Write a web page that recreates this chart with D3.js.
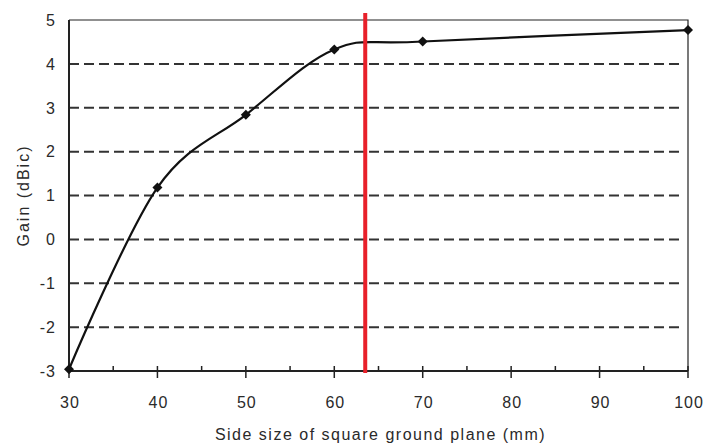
<!DOCTYPE html>
<html>
<head>
<meta charset="utf-8">
<script src="https://cdn.jsdelivr.net/npm/d3@7"></script>
<style>
  body { margin: 0; background: #fff; }
  text { font-family: "Liberation Sans", Arial, sans-serif; fill: #2a2a2a; }
</style>
</head>
<body>
<div id="chart"></div>
<script>
const width = 704;
const height = 446;

// Data
const sizes = [30, 40, 50, 60, 70, 100];
const gains = [-2.96, 1.18, 2.84, 4.33, 4.51, 4.77];
const xTicks = [30, 40, 50, 60, 70, 80, 90, 100];
const yTicks = [-3, -2, -1, 0, 1, 2, 3, 4, 5];
const markerSize = [63.5];

const margin = { top: 20, right: 16, bottom: 75, left: 69 };
const innerW = width - margin.left - margin.right;
const innerH = height - margin.top - margin.bottom;

const svg = d3.select("#chart")
  .append("svg")
  .attr("width", width)
  .attr("height", height);

const g = svg.append("g")
  .attr("transform", `translate(${margin.left},${margin.top})`);

const x = d3.scaleLinear().domain([30, 100]).range([0, innerW]);
const y = d3.scaleLinear().domain([-3, 5]).range([innerH, 0]);

// dashed gridlines (not at top or bottom)
g.selectAll(".grid")
  .data(yTicks.filter(t => t > -3 && t < 5))
  .enter()
  .append("line")
  .attr("x1", 0)
  .attr("x2", innerW - 8)
  .attr("y1", d => y(d))
  .attr("y2", d => y(d))
  .attr("stroke", "#333")
  .attr("stroke-width", 2)
  .attr("stroke-dasharray", "10,5");

// frame top & right
g.append("path")
  .attr("d", `M0,${y(5)}H${x(100)}V${y(-3)}`)
  .attr("fill", "none")
  .attr("stroke", "#222")
  .attr("stroke-width", 1.2);

// x axis: major ticks crossing, minor ticks inside
const minor = d3.range(35, 100, 10);
g.selectAll(".minor")
  .data(minor)
  .enter()
  .append("line")
  .attr("x1", d => x(d)).attr("x2", d => x(d))
  .attr("y1", innerH - 5).attr("y2", innerH)
  .attr("stroke", "#222").attr("stroke-width", 1.5);

g.selectAll(".major")
  .data(xTicks)
  .enter()
  .append("line")
  .attr("x1", d => x(d)).attr("x2", d => x(d))
  .attr("y1", innerH - 5).attr("y2", innerH + 7)
  .attr("stroke", "#222").attr("stroke-width", 1.5);

g.append("line")
  .attr("x1", 0).attr("x2", innerW)
  .attr("y1", innerH).attr("y2", innerH)
  .attr("stroke", "#222").attr("stroke-width", 2);

g.append("line")
  .attr("x1", 0).attr("x2", 0)
  .attr("y1", 0).attr("y2", innerH)
  .attr("stroke", "#222").attr("stroke-width", 2);

// tick labels
g.selectAll(".xlab")
  .data(xTicks)
  .enter()
  .append("text")
  .attr("x", d => x(d) + 1)
  .attr("y", innerH + 37)
  .attr("text-anchor", "middle")
  .style("font-size", "16px")
  .style("letter-spacing", "1px")
  .text(d => d);

g.selectAll(".ylab")
  .data(yTicks)
  .enter()
  .append("text")
  .attr("x", -13)
  .attr("y", d => y(d))
  .attr("dy", "0.36em")
  .attr("text-anchor", "end")
  .style("font-size", "16px")
  .style("letter-spacing", "1px")
  .text(d => d);

// axis titles
svg.append("text")
  .attr("x", margin.left + innerW / 2 + 2)
  .attr("y", 440)
  .attr("text-anchor", "middle")
  .style("font-size", "16px")
  .style("letter-spacing", "1.5px")
  .text("Side size of square ground plane (mm)");

svg.append("text")
  .attr("transform", `translate(29,${margin.top + innerH / 2}) rotate(-90)`)
  .attr("text-anchor", "middle")
  .style("font-size", "16px")
  .style("letter-spacing", "2px")
  .text("Gain (dBic)");

// smoothed curve
const points = sizes.map((s, i) => [s, gains[i]]);
const line = d3.line()
  .x(d => x(d[0]))
  .y(d => y(d[1]))
  .curve(d3.curveCardinal.tension(0));

g.append("path")
  .datum(points)
  .attr("d", line)
  .attr("fill", "none")
  .attr("stroke", "#111")
  .attr("stroke-width", 2.2);

g.selectAll(".pt")
  .data(points)
  .enter()
  .append("path")
  .attr("d", d3.symbol().type(d3.symbolDiamond2).size(64))
  .attr("transform", d => `translate(${x(d[0])},${y(d[1])})`)
  .attr("fill", "#111");

// red marker line
g.selectAll(".red")
  .data(markerSize)
  .enter()
  .append("line")
  .attr("x1", d => x(d)).attr("x2", d => x(d))
  .attr("y1", -7).attr("y2", innerH + 2)
  .attr("stroke", "#e8202a")
  .attr("stroke-width", 4);
</script>
</body>
</html>
